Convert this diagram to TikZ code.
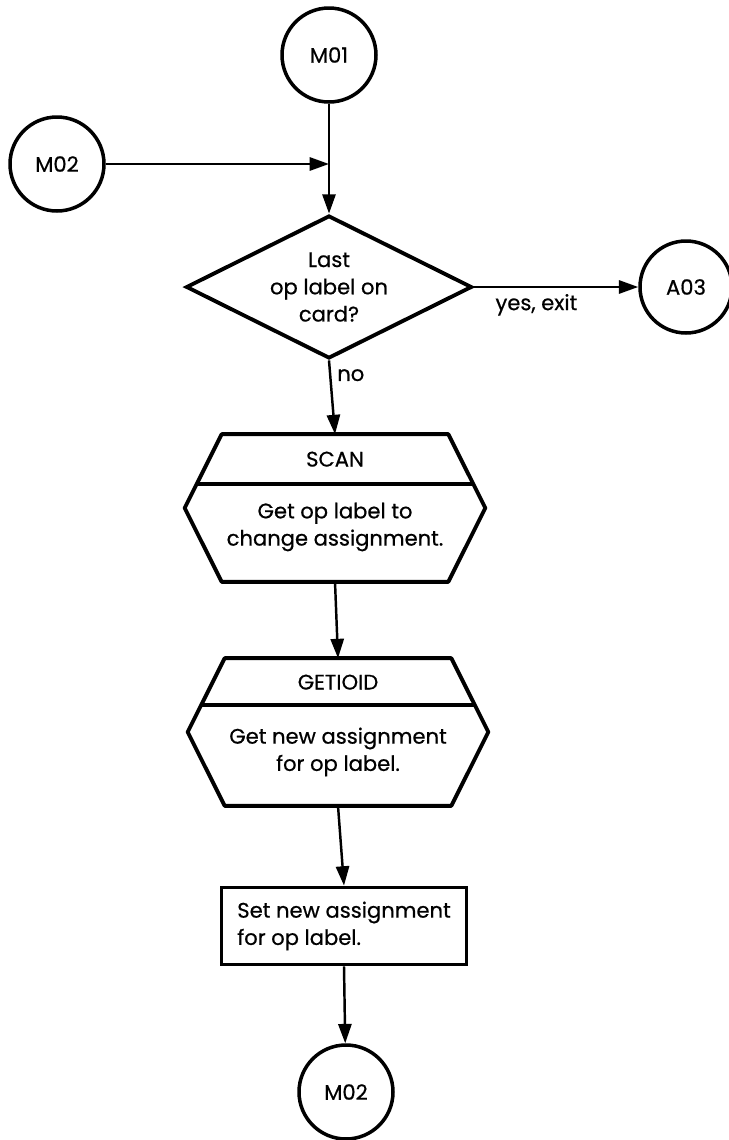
\documentclass[tikz,border=0pt]{standalone}
\usepackage{fontspec}
\setmainfont{Poppins}[FakeBold=0.6]
\usepackage{tikz}
\usetikzlibrary{positioning, arrows.meta, calc, shapes.geometric}

\tikzset{
  conn/.style={circle, draw, line width=2pt, minimum size=1.88cm, inner sep=0pt},
  decide/.style={diamond, draw, line width=2.2pt, minimum width=5.72cm, minimum height=2.86cm,
    aspect=2, inner sep=0pt, align=center},
  hexarea/.style={rectangle, minimum width=6cm, minimum height=2.94cm, inner sep=0pt},
  outline/.style={line width=2.2pt, line join=round},
  procbox/.style={rectangle, draw, line width=2.2pt, minimum width=4.9cm, minimum height=1.54cm,
    align=left},
  flow/.style={->, line width=1.4pt},
}

\begin{document}
\begin{tikzpicture}[x=0.02cm, y=-0.02cm, >={Triangle[length=11pt, width=7.5pt]},
  font=\fontsize{12}{15.5}\selectfont]
\useasboundingbox (0,0) rectangle (728,1140);

% Vstupni konektory a rozhodnuti
\node[conn] (m01) at (329,55) {M01};
\node[conn] (m02a) at (57,164) {M02};
\node[decide] (dec) at (329,287) {Last\\op label on\\card?};
\node[conn, minimum size=1.84cm] (a03) at (686,287) {A03};

% Podprogram SCAN
\node[hexarea] (scan) at (335,508) {};
\draw[outline] ($(scan.north west)+(37,0)$) -- ($(scan.north east)+(-37,0)$) -- (scan.east)
  -- ($(scan.south east)+(-37,0)$) -- ($(scan.south west)+(37,0)$) -- (scan.west) -- cycle;
\draw[outline] ($(scan.north west)+(12,50)$) -- ($(scan.north east)+(-12,50)$);
\node (scantitle) at ($(scan.north)+(0,25)$) {SCAN};
\node[align=center] (scanbody) at ($(scan.center)+(0,19)$) {Get op label to\\change assignment.};

% Podprogram GETIOID
\node[hexarea] (getioid) at (338,732) {};
\draw[outline] ($(getioid.north west)+(37,0)$) -- ($(getioid.north east)+(-37,0)$) -- (getioid.east)
  -- ($(getioid.south east)+(-37,0)$) -- ($(getioid.south west)+(37,0)$) -- (getioid.west) -- cycle;
\draw[outline] ($(getioid.north west)+(12,47)$) -- ($(getioid.north east)+(-12,47)$);
\node (getioidtitle) at ($(getioid.north)+(0,24)$) {GETIOID};
\node[align=center] (getioidbody) at ($(getioid.center)+(0,20)$) {Get new assignment\\for op label.};

% Prirazeni a navrat
\node[procbox] (setbox) at (344,926) {Set new assignment\\for op label.};
\node[conn] (m02b) at (346,1092) {M02};

% Spojnice
\coordinate (join) at (m01 |- m02a);
\draw[flow] (m01) -- (dec);
\draw[flow] (m02a) -- (join);
\draw[flow] (dec.east) -- node[pos=0.38, below] {yes, exit} (a03);
\draw[flow] (dec.south) -- node[pos=0.2, right] {no} (scan.north);
\draw[flow] (scan.south) -- (getioid.north);
\draw[flow] (getioid.south) -- (setbox.north);
\draw[flow] (setbox.south) -- (m02b);

\end{tikzpicture}
\end{document}
